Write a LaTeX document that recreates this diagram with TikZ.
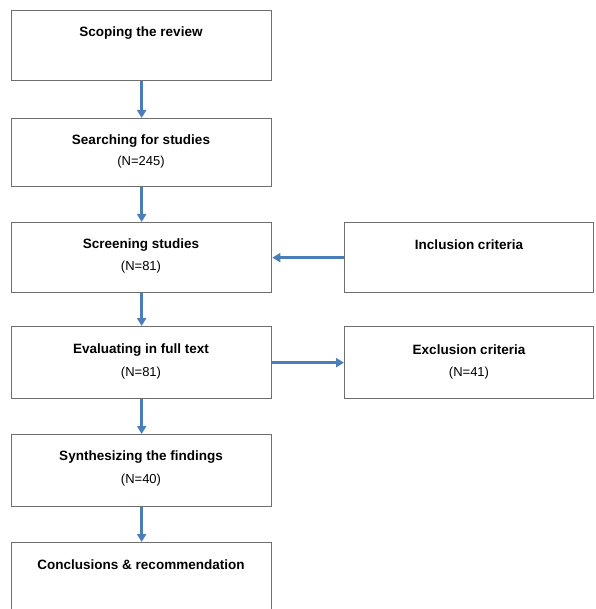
\documentclass[tikz,border=0pt]{standalone}
\usepackage{fontspec}
\setmainfont{Liberation Sans}
\usetikzlibrary{arrows.meta}
\definecolor{arrblue}{RGB}{74,126,187}
\definecolor{boxgray}{RGB}{110,110,110}
\begin{document}
\begin{tikzpicture}[x=1pt,y=-1pt,
  box/.style={draw=boxgray,line width=1.3pt,fill=white,rectangle,anchor=north west,inner sep=0pt},
  ttl/.style={font=\fontsize{13.5}{15}\selectfont\bfseries,anchor=center,inner sep=0pt},
  num/.style={font=\fontsize{13}{15}\selectfont,anchor=center,inner sep=0pt},
  arr/.style={draw=arrblue,line width=3pt,-{Triangle[length=8pt,width=9pt]}}]
\useasboundingbox (0,0) rectangle (595,609);
\clip (0,0) rectangle (595,609);
\fill[white] (0,0) rectangle (595,609);
% left column
\node[box,minimum width=260pt,minimum height=70pt] (b1) at (11,10) {};
\node[box,minimum width=260pt,minimum height=68pt] (b2) at (11,118) {};
\node[box,minimum width=260pt,minimum height=70pt] (b3) at (11,222) {};
\node[box,minimum width=260pt,minimum height=72pt] (b4) at (11,326) {};
\node[box,minimum width=260pt,minimum height=72pt] (b5) at (11,434) {};
\node[box,minimum width=260pt,minimum height=80pt] (b6) at (11,542) {};
% right column
\node[box,minimum width=249pt,minimum height=70pt] (inc) at (344,222) {};
\node[box,minimum width=249pt,minimum height=72pt] (exc) at (344,326) {};
% texts
\node[ttl] (t1) at (141,33) {Scoping the review};
\node[ttl] (t2) at (141,141) {Searching for studies};
\node[num] (n2) at (141,162) {(N=245)};
\node[ttl] (t3) at (141,245) {Screening studies};
\node[num] (n3) at (141,267) {(N=81)};
\node[ttl] (t4) at (141,350) {Evaluating in full text};
\node[num] (n4) at (141,373) {(N=81)};
\node[ttl] (t5) at (141,457) {Synthesizing the findings};
\node[num] (n5) at (141,480) {(N=40)};
\node[ttl] (t6) at (141,565) {Conclusions \& recommendation};
\node[ttl] (ti) at (469,245) {Inclusion criteria};
\node[ttl] (te) at (469,350) {Exclusion criteria};
\node[num] (ne) at (469,373) {(N=41)};
% arrows
\draw[arr] (b1.south) -- (b2.north);
\draw[arr] (b2.south) -- (b3.north);
\draw[arr] (b3.south) -- (b4.north);
\draw[arr] (b4.south) -- (b5.north);
\draw[arr] (b5.south) -- (b6.north);
\draw[arr] (inc.west) -- (b3.east |- inc.west);
\draw[arr] (b4.east) -- (exc.west |- b4.east);
\end{tikzpicture}
\end{document}
